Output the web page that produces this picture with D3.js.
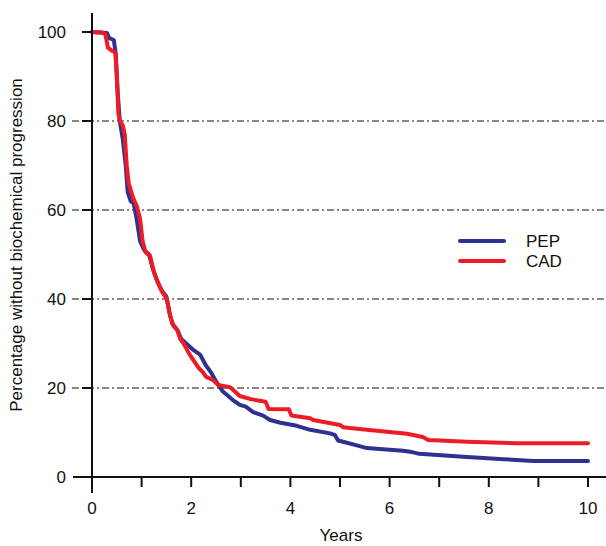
<!DOCTYPE html>
<html>
<head>
<meta charset="utf-8">
<script src="https://cdn.jsdelivr.net/npm/d3@7"></script>
<style>
  body { margin: 0; background: #fff; }
  text { font-family: "Liberation Sans", Arial, sans-serif; fill: #111; }
  .grid { stroke: #111; stroke-width: 1.1; stroke-dasharray: 7,3,2,3; }
  .axis-line { stroke: #111; stroke-width: 2; }
  .curve { fill: none; stroke-width: 4; stroke-linejoin: round; stroke-linecap: round; }
</style>
</head>
<body>
<svg id="chart" width="606" height="546"></svg>
<script>
// PEP curve (years, percent)
var pep = [[0,100],[0.3,99.8],[0.35,98.6],[0.44,98.2],[0.48,95],[0.52,86],[0.56,80],[0.62,76],
  [0.68,70],[0.72,64],[0.78,62],[0.84,61.5],[0.9,58],[0.97,53],[1.05,51],[1.15,50],[1.22,47],
  [1.3,44.5],[1.4,42],[1.5,40.5],[1.56,37],[1.62,34.5],[1.72,33],[1.8,31],[1.9,30],[2.05,28.5],
  [2.18,27.5],[2.3,25],[2.4,23.5],[2.5,21.5],[2.64,19.2],[2.84,17.3],[2.98,16.2],[3.1,15.8],
  [3.25,14.6],[3.45,13.8],[3.59,12.8],[3.8,12.2],[4.13,11.5],[4.4,10.6],[4.8,9.8],[4.9,9.4],
  [4.96,8.2],[5.1,7.8],[5.34,7.1],[5.54,6.5],[5.8,6.3],[6.27,5.9],[6.45,5.6],[6.6,5.2],
  [7.56,4.5],[8.3,4.0],[8.9,3.6],[10,3.6]];

// CAD curve (years, percent)
var cad = [[0,100],[0.2,99.9],[0.27,99.5],[0.32,96.5],[0.4,95.8],[0.47,95.5],[0.5,90],[0.53,82],
  [0.56,80],[0.62,79],[0.66,77],[0.7,70],[0.74,66],[0.83,62.7],[0.9,61],[0.97,58],[1.02,53],
  [1.08,50.5],[1.17,49.7],[1.25,46],[1.33,43.6],[1.42,41.5],[1.51,40],[1.58,36],[1.64,34],
  [1.72,33],[1.78,31],[1.84,30.1],[1.97,27.5],[2.04,26.3],[2.15,24.5],[2.24,23.5],[2.3,22.5],
  [2.44,21.8],[2.54,20.7],[2.78,20.2],[2.98,18.2],[3.2,17.5],[3.5,16.9],[3.56,15.3],[3.97,15.2],
  [4.02,13.8],[4.4,13.2],[4.46,12.8],[5.0,11.7],[5.06,11.2],[5.54,10.6],[6.35,9.7],[6.67,9.0],
  [6.78,8.3],[7.56,7.9],[8.57,7.6],[10,7.6]];

var xTicks = [0,1,2,3,4,5,6,7,8,9,10];
var xLabels = [0,2,4,6,8,10];
var yTicks = [0,20,40,60,80,100];
var gridVals = [20,40,60,80];
var seriesNames = ['PEP','CAD'];
var seriesColors = ['#2e3192','#ed1c24'];

var svg = d3.select('#chart');

var x = d3.scaleLinear().domain([0,10]).range([92,588]);
var y = d3.scaleLinear().domain([0,100]).range([477,32]);

//grid lines
svg.selectAll('.grid')
  .data(gridVals)
  .enter().append('line')
  .attr('class','grid')
  .attr('x1',72)
  .attr('x2',606)
  .attr('y1',function(d){ return y(d); })
  .attr('y2',function(d){ return y(d); });

//curves
var line = d3.line()
  .x(function(d){ return x(d[0]); })
  .y(function(d){ return y(d[1]); });

svg.append('path')
  .attr('class','curve')
  .attr('d',line(pep))
  .style('stroke',seriesColors[0]);

svg.append('path')
  .attr('class','curve')
  .attr('d',line(cad))
  .style('stroke',seriesColors[1]);

//axis lines
svg.append('line').attr('class','axis-line')
  .attr('x1',x(0)).attr('x2',x(0)).attr('y1',13).attr('y2',493);
svg.append('line').attr('class','axis-line')
  .attr('x1',73).attr('x2',606).attr('y1',y(0)).attr('y2',y(0));

//x ticks
svg.selectAll('.xtick')
  .data(xTicks)
  .enter().append('line')
  .attr('class','axis-line xtick')
  .attr('x1',function(d){ return x(d); })
  .attr('x2',function(d){ return x(d); })
  .attr('y1',y(0))
  .attr('y2',y(0)+10);

svg.selectAll('.xlabel')
  .data(xLabels)
  .enter().append('text')
  .attr('class','xlabel')
  .attr('x',function(d){ return x(d); })
  .attr('y',514)
  .attr('text-anchor','middle')
  .style('font-size','17px')
  .text(function(d){ return d; });

//y ticks
svg.selectAll('.ytick')
  .data(yTicks)
  .enter().append('line')
  .attr('class','axis-line ytick')
  .attr('x1',82)
  .attr('x2',x(0))
  .attr('y1',function(d){ return y(d); })
  .attr('y2',function(d){ return y(d); });

svg.selectAll('.ylabel')
  .data(yTicks)
  .enter().append('text')
  .attr('class','ylabel')
  .attr('x',66)
  .attr('y',function(d){ return y(d)+6; })
  .attr('text-anchor','end')
  .style('font-size','17px')
  .text(function(d){ return d; });

//axis titles
svg.append('text')
  .attr('x',341)
  .attr('y',541)
  .attr('text-anchor','middle')
  .style('font-size','17px')
  .text('Years');

svg.append('text')
  .attr('transform','translate(22,245) rotate(-90)')
  .attr('text-anchor','middle')
  .style('font-size','17px')
  .text('Percentage without biochemical progression');

//legend
var legend = svg.selectAll('.legend')
  .data(seriesNames)
  .enter().append('g')
  .attr('class','legend')
  .attr('transform',function(d,i){ return 'translate(0,' + (241 + i*20) + ')'; });

legend.append('line')
  .attr('x1',460).attr('x2',504)
  .attr('y1',0).attr('y2',0)
  .style('stroke',function(d,i){ return seriesColors[i]; })
  .style('stroke-width',4)
  .style('stroke-linecap','round');

legend.append('text')
  .attr('x',526)
  .attr('y',6)
  .style('font-size','17px')
  .text(function(d){ return d; });
</script>
</body>
</html>
